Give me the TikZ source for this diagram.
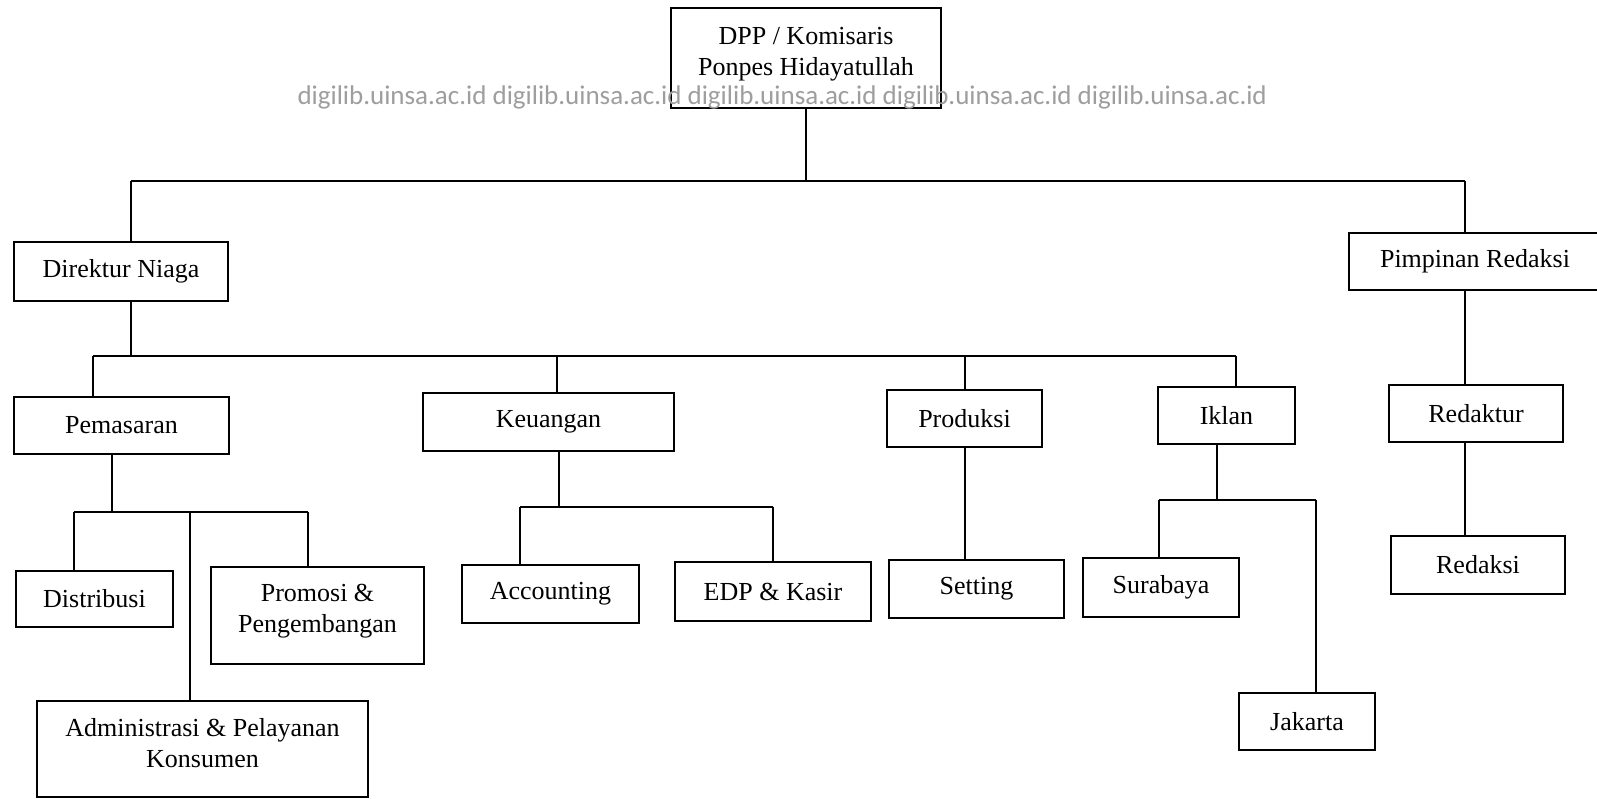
\documentclass[tikz,border=0pt]{standalone}
\usepackage{fontspec}
\setmainfont{Liberation Serif}
\newfontfamily\wmfont{Carlito}
\begin{document}
\begin{tikzpicture}[x=1pt,y=-1pt,
  box/.style={draw=black, line width=2.6pt, fill=white, inner sep=0pt,
    font=\fontsize{26}{31}\selectfont, align=center},
  conn/.style={draw=black, line width=2.2pt},
  wm/.style={text=black!38, font=\wmfont\fontsize{27}{32}\selectfont, inner sep=0pt}]
\clip (0,0) rectangle (1597,799);
\fill[white] (0,0) rectangle (1597,799);

% nodes
\node[box, minimum width=270, minimum height=100, text depth=14pt] (top) at (806,58) {DPP / Komisaris\\Ponpes Hidayatullah};
\node[box, minimum width=214, minimum height=59] (dn) at (121,271.5) {Direktur Niaga};
\node[box, minimum width=252, minimum height=57] (pr) at (1475,261.5) {Pimpinan Redaksi};
\node[box, minimum width=215, minimum height=57] (pem) at (121.5,425.5) {Pemasaran};
\node[box, minimum width=251, minimum height=58] (keu) at (548.5,422) {Keuangan};
\node[box, minimum width=155, minimum height=57] (prod) at (964.5,418.5) {Produksi};
\node[box, minimum width=137, minimum height=57] (ikl) at (1226.5,415.5) {Iklan};
\node[box, minimum width=174, minimum height=57] (redk) at (1476,413.5) {Redaktur};
\node[box, minimum width=174, minimum height=58] (reds) at (1478,565) {Redaksi};
\node[box, minimum width=157, minimum height=56] (dist) at (94.5,599) {Distribusi};
\node[box, minimum width=213, minimum height=97, text depth=14pt] (prom) at (317.5,615.5) {Promosi \&\\Pengembangan};
\node[box, minimum width=331, minimum height=96, text depth=12pt] (adm) at (202.5,749) {Administrasi \& Pelayanan\\Konsumen};
\node[box, minimum width=177, minimum height=58] (acc) at (550.5,594) {Accounting};
\node[box, minimum width=196, minimum height=59] (edp) at (773,591.5) {EDP \& Kasir};
\node[box, minimum width=175, minimum height=58] (set) at (976.5,589) {Setting};
\node[box, minimum width=156, minimum height=59] (sby) at (1161,587.5) {Surabaya};
\node[box, minimum width=136, minimum height=57] (jkt) at (1307,721.5) {Jakarta};

% bus coordinates
\coordinate (b1l) at (131,181);
\coordinate (b1r) at (1465,181);
\coordinate (b2l) at (93,356);
\coordinate (b2r) at (1236,356);
\coordinate (b2k) at (557,356);
\coordinate (b2p) at (965,356);
\coordinate (p3l) at (74,512);
\coordinate (p3c) at (112,512);
\coordinate (p3m) at (190,512);
\coordinate (p3r) at (308,512);
\coordinate (k3l) at (520,507);
\coordinate (k3c) at (559,507);
\coordinate (k3r) at (773,507);
\coordinate (i3l) at (1159,500);
\coordinate (i3c) at (1217,500);
\coordinate (i3r) at (1316,500);

% level 1
\draw[conn] (top.south) -- (top.south |- b1l);
\draw[conn] (b1l) -- (b1r);
\draw[conn] (b1l) -- (b1l |- dn.north);
\draw[conn] (b1r) -- (b1r |- pr.north);
% level 2
\draw[conn] (b1l |- dn.south) -- (b1l |- b2l);
\draw[conn] (b2l) -- (b2r);
\draw[conn] (b2l) -- (b2l |- pem.north);
\draw[conn] (b2k) -- (b2k |- keu.north);
\draw[conn] (b2p) -- (b2p |- prod.north);
\draw[conn] (b2r) -- (b2r |- ikl.north);
\draw[conn] (b1r |- pr.south) -- (b1r |- redk.north);
\draw[conn] (b1r |- redk.south) -- (b1r |- reds.north);
% pemasaran
\draw[conn] (p3c |- pem.south) -- (p3c);
\draw[conn] (p3l) -- (p3r);
\draw[conn] (p3l) -- (p3l |- dist.north);
\draw[conn] (p3r) -- (p3r |- prom.north);
\draw[conn] (p3m) -- (p3m |- adm.north);
% keuangan
\draw[conn] (k3c |- keu.south) -- (k3c);
\draw[conn] (k3l) -- (k3r);
\draw[conn] (k3l) -- (k3l |- acc.north);
\draw[conn] (k3r) -- (k3r |- edp.north);
% produksi
\draw[conn] (b2p |- prod.south) -- (b2p |- set.north);
% iklan
\draw[conn] (i3c |- ikl.south) -- (i3c);
\draw[conn] (i3l) -- (i3r);
\draw[conn] (i3l) -- (i3l |- sby.north);
\draw[conn] (i3r) -- (i3r |- jkt.north);

% watermark
\node[wm] (wmk) at (782.5,97) {digilib.uinsa.ac.id digilib.uinsa.ac.id digilib.uinsa.ac.id digilib.uinsa.ac.id digilib.uinsa.ac.id};
\end{tikzpicture}
\end{document}
